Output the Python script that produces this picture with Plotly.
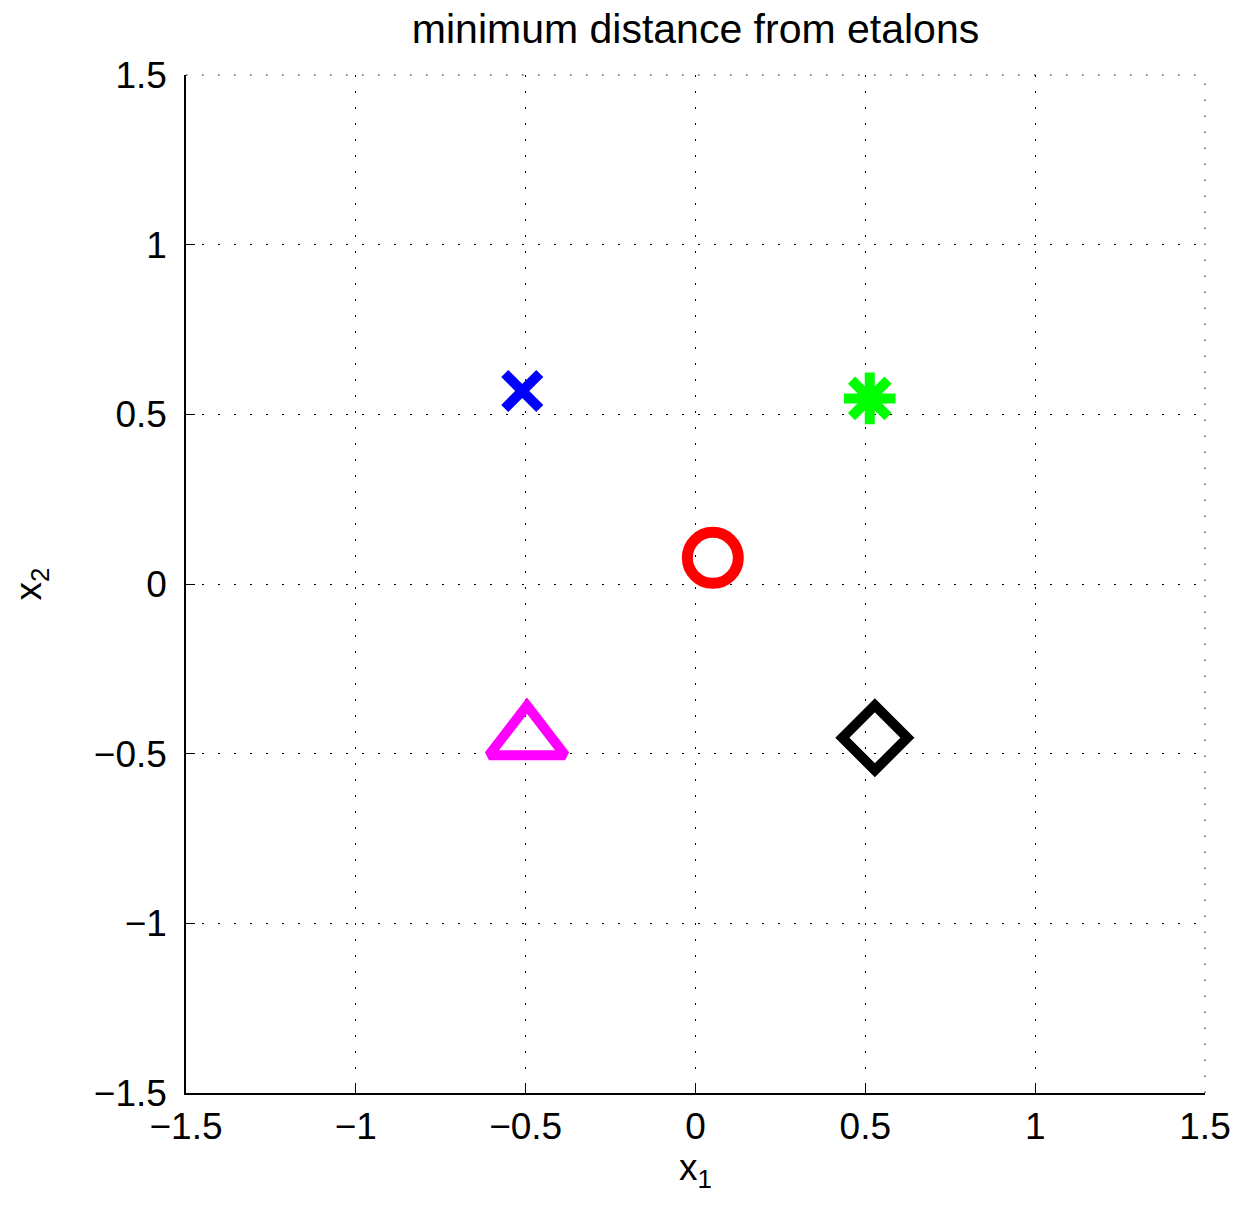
import plotly.graph_objects as go

# Data
x1_vals = [-0.51, 0.513, 0.051, -0.496, 0.528]
x2_vals = [0.569, 0.547, 0.077, -0.456, -0.453]
tick_vals = [-1.5, -1, -0.5, 0, 0.5, 1, 1.5]
tick_text = ["\u22121.5", "\u22121", "\u22120.5", "0", "0.5", "1", "1.5"]

symbols = ["x-thin-open", "asterisk-open", "circle-open", "triangle-up-open", "diamond-open"]
colors = ["#0000ff", "#00ff00", "#ff0000", "#ff00ff", "#000000"]
sizes = [35, 43, 51, 66, 50]
widths = [10, 10, 11, 10, 10]

FONT = "Liberation Sans, Arial, Helvetica, sans-serif"
GRID_DASH = "1.5px,14.5px"

fig = go.Figure()
for i in range(len(x1_vals)):
    fig.add_trace(go.Scatter(
        x=[x1_vals[i]], y=[x2_vals[i]], mode="markers",
        marker=dict(symbol=symbols[i], size=sizes[i], color=colors[i],
                    line=dict(width=widths[i], color=colors[i])),
        showlegend=False, hoverinfo="x+y"))

axis_common = dict(
    range=[-1.5, 1.5], tickmode="array", tickvals=tick_vals, ticktext=tick_text,
    showgrid=True, gridcolor="black", gridwidth=1, griddash=GRID_DASH,
    zeroline=False, showline=True, linecolor="black", linewidth=1.5,
    ticks="inside", ticklen=9, tickcolor="black", tickwidth=1,
    tickfont=dict(family=FONT, size=37, color="black"),
    mirror=False, fixedrange=True,
)

# dotted box edges (top and right), as in the reference
fig.add_shape(type="line", xref="paper", yref="paper", x0=0, x1=1, y0=1, y1=1,
              line=dict(color="black", width=1, dash=GRID_DASH), layer="below")
fig.add_shape(type="line", xref="paper", yref="paper", x0=1, x1=1, y0=0, y1=1,
              line=dict(color="black", width=1, dash=GRID_DASH), layer="below")

fig.update_layout(
    width=1235, height=1197,
    margin=dict(l=178, r=38, t=67, b=112),
    paper_bgcolor="white", plot_bgcolor="white",
    title=dict(text="minimum distance from etalons", x=0.5, xref="paper",
               y=1, yref="container", yanchor="top", xanchor="center",
               pad=dict(t=6),
               font=dict(family=FONT, size=41, color="black")),
    xaxis=dict(**axis_common,
               title=dict(text="x<sub>1</sub>", standoff=2,
                          font=dict(family=FONT, size=37, color="black"))),
    yaxis=dict(**axis_common, ticklabelstandoff=10,
               title=dict(text="x<sub>2</sub>", standoff=45,
                          font=dict(family=FONT, size=37, color="black"))),
)

fig.write_html("out.html")
